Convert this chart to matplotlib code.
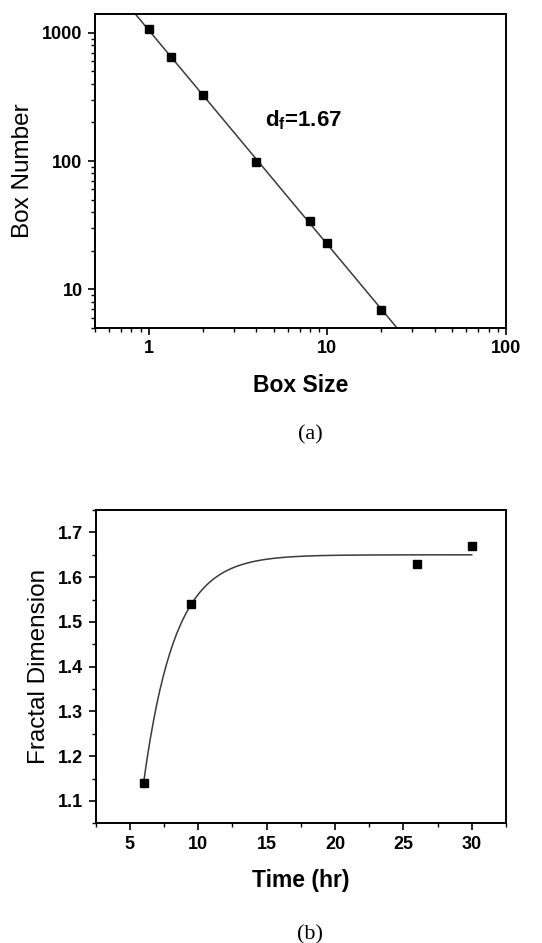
import numpy as np
import matplotlib
matplotlib.use("Agg")
import matplotlib.pyplot as plt
from matplotlib.ticker import FixedLocator, NullFormatter, MultipleLocator, LogLocator

plt.rcParams['font.family'] = ['Liberation Sans', 'DejaVu Sans']
plt.rcParams['mathtext.fontset'] = 'custom'
plt.rcParams['mathtext.rm'] = 'Liberation Sans'
plt.rcParams['mathtext.bf'] = 'Liberation Sans:bold'

# (a) box counting
box_size = [1, 1.33, 2, 4, 8, 10, 20]
box_number = [1070, 645, 328, 98, 34, 23, 6.9]

# (b) fractal dimension vs time
time_hr = [6, 9.5, 26, 30]
frac_dim = [1.14, 1.54, 1.63, 1.67]
# exponential rise fit: y = plateau - amp * exp(-(t - 6) / tau)
plateau, amp, tau = 1.65, 0.51, 2.28

fig = plt.figure(figsize=(5.42, 9.43), dpi=100)

def style(ax):
    for s in ax.spines.values():
        s.set_linewidth(1.4)
    ax.tick_params(which='major', direction='out', length=5, width=1.2,
                   labelsize=13, pad=4, top=False, right=False)
    ax.tick_params(which='minor', direction='out', length=3, width=1,
                   top=False, right=False)
    for lab in ax.get_xticklabels() + ax.get_yticklabels():
        lab.set_fontweight('bold')

# ---- panel a
ax1 = fig.add_axes([0.1753, 0.6522, 0.758, 0.333])
ax1.set_xscale('log')
ax1.set_yscale('log')
ax1.set_xlim(0.5, 100)
ax1.set_ylim(5, 1400)

coef = np.polyfit(np.log10(box_size), np.log10(box_number), 1)
xf = np.logspace(np.log10(0.5), 2, 200)
ax1.plot(xf, 10 ** np.polyval(coef, np.log10(xf)), color='#3a3a3a', lw=1.1)
ax1.plot(box_size, box_number, 's', color='black', ms=5.5)

ax1.xaxis.set_major_locator(FixedLocator([1, 10, 100]))
ax1.set_xticklabels(['1', '10', '100'])
ax1.xaxis.set_minor_locator(LogLocator(base=10, subs=np.arange(2, 10)))
ax1.xaxis.set_minor_formatter(NullFormatter())
ax1.yaxis.set_major_locator(FixedLocator([10, 100, 1000]))
ax1.set_yticklabels(['10', '100', '1000'])
ax1.yaxis.set_minor_locator(LogLocator(base=10, subs=np.arange(2, 10)))
ax1.yaxis.set_minor_formatter(NullFormatter())
style(ax1)

ax1.text(4.5, 209, r'$\mathbf{d_f}$=1.67', fontsize=16, fontweight='bold',
         va='center', ha='left')
ax1.set_xlabel('Box Size', fontsize=16.5, fontweight='bold', labelpad=12)
ax1.set_ylabel('Box Number', fontsize=17.5, labelpad=6)

fig.text(310 / 542, 1 - 435 / 943, '(a)', ha='center', va='center',
         family='Liberation Serif', fontsize=16)

# ---- panel b
ax2 = fig.add_axes([0.1766, 0.1269, 0.7568, 0.3322])
ax2.set_xlim(2.5, 32.5)
ax2.set_ylim(1.05, 1.75)
tf = np.linspace(6, 30, 300)
ax2.plot(tf, plateau - amp * np.exp(-(tf - 6) / tau), color='#3a3a3a', lw=1.1)
ax2.plot(time_hr, frac_dim, 's', color='black', ms=5.5)

ax2.xaxis.set_minor_locator(MultipleLocator(2.5))
ax2.yaxis.set_minor_locator(MultipleLocator(0.05))
ax2.set_xticks([5, 10, 15, 20, 25, 30])
ax2.set_xticklabels(['5', '10', '15', '20', '25', '30'])
ax2.set_yticks([1.1, 1.2, 1.3, 1.4, 1.5, 1.6, 1.7])
ax2.set_yticklabels(['1.1', '1.2', '1.3', '1.4', '1.5', '1.6', '1.7'])
style(ax2)

ax2.set_xlabel('Time (hr)', fontsize=16.5, fontweight='bold', labelpad=12)
ax2.set_ylabel('Fractal Dimension', fontsize=17.5, labelpad=6)

fig.text(310 / 542, 1 - 935 / 943, '(b)', ha='center', va='center',
         family='Liberation Serif', fontsize=16)

fig.savefig('out.png', dpi=100)
